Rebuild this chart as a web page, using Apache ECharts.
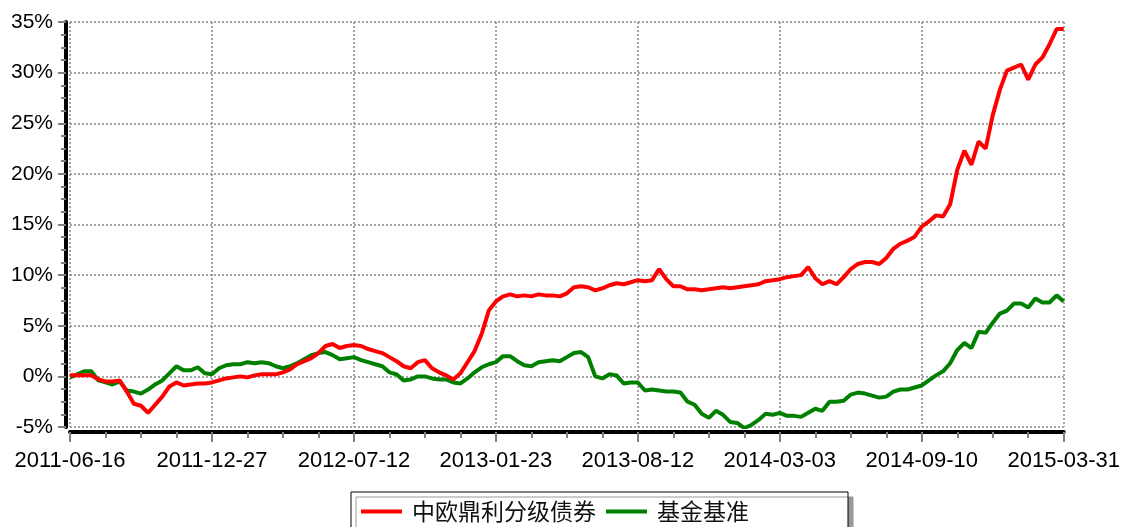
<!DOCTYPE html>
<html>
<head>
<meta charset="utf-8">
<script src="https://cdn.jsdelivr.net/npm/echarts@6/dist/echarts.min.js"></script>
<style>
  html, body { margin: 0; padding: 0; background: #fff; }
  #main { width: 1123px; height: 527px; }
</style>
</head>
<body>
<div id="main"></div>
<script>
// 横轴刻度标签（每 20 个点一个）
const tickLabels = ['2011-06-16', '2011-12-27', '2012-07-12', '2013-01-23', '2013-08-12', '2014-03-03', '2014-09-10', '2015-03-31'];

const seriesNames = ['中欧鼎利分级债券', '基金基准'];

// 中欧鼎利分级债券 累计收益率 (%)
const fundValues = [
  0.1, 0.1, 0.1, 0.1, -0.3, -0.5, -0.5, -0.4, -1.5, -2.7,
  -2.9, -3.6, -2.8, -2.0, -1.0, -0.6, -0.9, -0.8, -0.7, -0.7,
  -0.6, -0.4, -0.2, -0.1, 0.0, -0.1, 0.1, 0.2, 0.2, 0.2,
  0.4, 0.7, 1.2, 1.5, 1.8, 2.3, 3.0, 3.2, 2.8, 3.0,
  3.1, 3.0, 2.7, 2.5, 2.3, 1.9, 1.5, 1.0, 0.8, 1.4,
  1.6, 0.8, 0.4, 0.1, -0.3, 0.3, 1.4, 2.5, 4.2, 6.5,
  7.4, 7.9, 8.1, 7.9, 8.0, 7.9, 8.1, 8.0, 8.0, 7.9,
  8.2, 8.8, 8.9, 8.8, 8.5, 8.7, 9.0, 9.2, 9.1, 9.3,
  9.5, 9.4, 9.5, 10.6, 9.6, 8.9, 8.9, 8.6, 8.6, 8.5,
  8.6, 8.7, 8.8, 8.7, 8.8, 8.9, 9.0, 9.1, 9.4, 9.5,
  9.6, 9.8, 9.9, 10.0, 10.8, 9.7, 9.1, 9.4, 9.1, 9.8,
  10.6, 11.1, 11.3, 11.3, 11.1, 11.7, 12.6, 13.1, 13.4, 13.8,
  14.8, 15.3, 15.9, 15.8, 17.0, 20.4, 22.3, 20.9, 23.2, 22.5,
  25.8, 28.3, 30.2, 30.5, 30.8, 29.3, 30.8, 31.5, 32.8, 34.3,
  34.3
];

// 基金基准 (%)
const benchValues = [
  -0.1, 0.2, 0.5, 0.5, -0.4, -0.6, -0.8, -0.5, -1.4, -1.5,
  -1.7, -1.3, -0.8, -0.4, 0.3, 1.0, 0.6, 0.6, 0.9, 0.3,
  0.2, 0.8, 1.1, 1.2, 1.2, 1.4, 1.3, 1.4, 1.3, 1.0,
  0.8, 1.0, 1.3, 1.7, 2.1, 2.3, 2.4, 2.1, 1.7, 1.8,
  1.9, 1.6, 1.4, 1.2, 1.0, 0.4, 0.2, -0.4, -0.3, 0.0,
  0.0, -0.2, -0.3, -0.3, -0.6, -0.7, -0.2, 0.4, 0.9, 1.2,
  1.4, 2.0, 2.0, 1.5, 1.1, 1.0, 1.4, 1.5, 1.6, 1.5,
  1.9, 2.3, 2.4, 1.9, 0.0, -0.2, 0.2, 0.1, -0.7, -0.6,
  -0.6, -1.4, -1.3, -1.4, -1.5, -1.5, -1.6, -2.5, -2.8, -3.7,
  -4.1, -3.4, -3.8, -4.5, -4.6, -5.1, -4.8, -4.3, -3.7, -3.8,
  -3.6, -3.9, -3.9, -4.0, -3.6, -3.2, -3.4, -2.5, -2.5, -2.4,
  -1.8, -1.6, -1.7, -1.9, -2.1, -2.0, -1.5, -1.3, -1.3, -1.1,
  -0.9, -0.4, 0.1, 0.5, 1.3, 2.6, 3.3, 2.8, 4.4, 4.3,
  5.3, 6.2, 6.5, 7.2, 7.2, 6.8, 7.7, 7.3, 7.3, 8.0,
  7.4
];

const STEP = 20; // 每个刻度之间的点数

function toPairs(arr) {
  return arr.map((v, i) => [i, v]);
}

const chart = echarts.init(document.getElementById('main'), null, { renderer: 'canvas' });

const gridLine = { show: true, lineStyle: { color: '#888', width: 1.5, type: [2, 2] } };
const font = 'Liberation Sans, Arial, sans-serif';

const option = {
  animation: false,
  backgroundColor: '#fff',
  grid: { left: 70, right: 52, top: 22, bottom: 100, containLabel: false },
  legend: {
    left: 351,
    top: 492,
    orient: 'horizontal',
    icon: 'rect',
    itemWidth: 41,
    itemHeight: 4,
    itemGap: 10,
    padding: [8, 99, 20, 10],
    backgroundColor: '#fff',
    borderColor: '#000',
    borderWidth: 1,
    borderRadius: 0,
    shadowColor: '#999',
    shadowBlur: 0,
    shadowOffsetX: 5,
    shadowOffsetY: 5,
    textStyle: {
      fontSize: 23,
      color: '#111',
      fontFamily: 'Noto Sans CJK SC, sans-serif',
      padding: [0, 0, 0, 5]
    },
    data: seriesNames
  },
  xAxis: {
    type: 'value',
    min: 0,
    max: (tickLabels.length - 1) * STEP,
    interval: STEP,
    offset: 5,
    axisLine: { show: true, onZero: false, lineStyle: { color: '#000', width: 4 } },
    axisTick: { show: true, length: 10, lineStyle: { color: '#808080', width: 2 } },
    minorTick: { show: true, splitNumber: 4, length: 6, lineStyle: { color: '#808080', width: 2 } },
    axisLabel: {
      margin: 18,
      fontSize: 22,
      color: '#000',
      fontFamily: font,
      formatter: v => tickLabels[Math.round(v / STEP)] || ''
    },
    splitLine: gridLine
  },
  yAxis: {
    type: 'value',
    min: -5,
    max: 35,
    interval: 5,
    offset: 4,
    axisLine: { show: true, onZero: false, lineStyle: { color: '#000', width: 4 } },
    axisTick: { show: true, length: 8, lineStyle: { color: '#808080', width: 2 } },
    minorTick: { show: true, splitNumber: 4, length: 5, lineStyle: { color: '#808080', width: 2 } },
    axisLabel: {
      margin: 13,
      fontSize: 21,
      color: '#000',
      fontFamily: font,
      formatter: v => v + '%'
    },
    splitLine: gridLine
  },
  series: [
    {
      name: seriesNames[0],
      type: 'line',
      data: toPairs(fundValues),
      symbol: 'none',
      z: 4,
      lineStyle: { color: '#ff0000', width: 4 },
      itemStyle: { color: '#ff0000' }
    },
    {
      name: seriesNames[1],
      type: 'line',
      data: toPairs(benchValues),
      symbol: 'none',
      z: 3,
      lineStyle: { color: '#008000', width: 4 },
      itemStyle: { color: '#008000' }
    }
  ]
};

chart.setOption(option);
</script>
</body>
</html>
